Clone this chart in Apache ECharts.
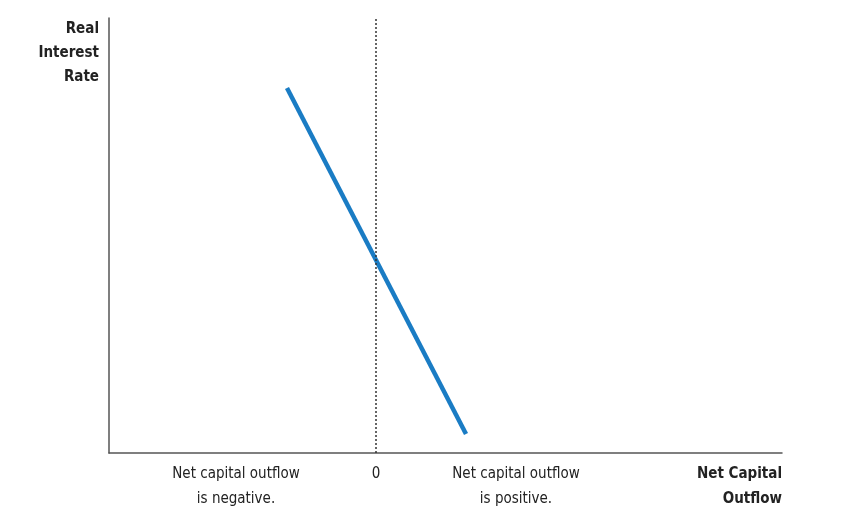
<!DOCTYPE html>
<html><head><meta charset="utf-8">
<script src="https://cdn.jsdelivr.net/npm/echarts@6/dist/echarts.min.js"></script>
<style>html,body{margin:0;padding:0;background:#fff}#c{width:847px;height:520px}</style>
</head><body><div id="c"></div>
<script>
// Net capital outflow curve (x: net capital outflow, 0 = balance; y: real interest rate)
const curveX = [-89, 90];
const curveY = [365, 19];
const tickValues = [-140, 0, 140];
const tickLabels = ['Net capital outflow\nis negative.', '0', 'Net capital outflow\nis positive.'];
const xName = 'Net Capital\nOutflow';
const yName = 'Real\nInterest\nRate';

const FONT = '"Liberation Sans Narrow","DejaVu Sans Condensed",sans-serif';
const chart = echarts.init(document.getElementById('c'));
chart.setOption({
  animation: false,
  grid: {left: 109, right: 65, top: 18, bottom: 67},
  xAxis: {
    type: 'value', min: -267, max: 406,
    splitLine: {show: false},
    axisLine: {onZero: false, lineStyle: {color: '#555', width: 1.5}},
    axisTick: {show: false},
    axisLabel: {
      customValues: tickValues,
      formatter: v => tickLabels[tickValues.indexOf(v)] || '',
      fontFamily: FONT, fontSize: 15, color: '#222', lineHeight: 25, margin: 9
    },
    name: xName, nameLocation: 'end', nameGap: 0,
    nameTextStyle: {fontFamily: FONT, fontSize: 15, fontWeight: 'bold', color: '#222',
      align: 'right', verticalAlign: 'top', lineHeight: 25, padding: [9, 0, 0, 0]}
  },
  yAxis: {
    type: 'value', min: 0, max: 435,
    splitLine: {show: false},
    axisLine: {show: true, onZero: false, lineStyle: {color: '#555', width: 1.5}},
    axisTick: {show: false},
    axisLabel: {show: false},
    name: yName, nameLocation: 'end', nameGap: 0,
    nameTextStyle: {fontFamily: FONT, fontSize: 15, fontWeight: 'bold', color: '#222',
      align: 'right', verticalAlign: 'top', lineHeight: 24, padding: [-1, 10, 0, 0]}
  },
  series: [{
    type: 'line',
    data: curveX.map((x, i) => [x, curveY[i]]),
    symbol: 'none',
    lineStyle: {color: '#1a7cc4', width: 4.5, cap: 'butt'},
    markLine: {
      silent: true, symbol: 'none', label: {show: false},
      lineStyle: {color: '#333', type: [2, 2], width: 1.5},
      data: [{xAxis: 0}]
    }
  }]
});
</script></body></html>
